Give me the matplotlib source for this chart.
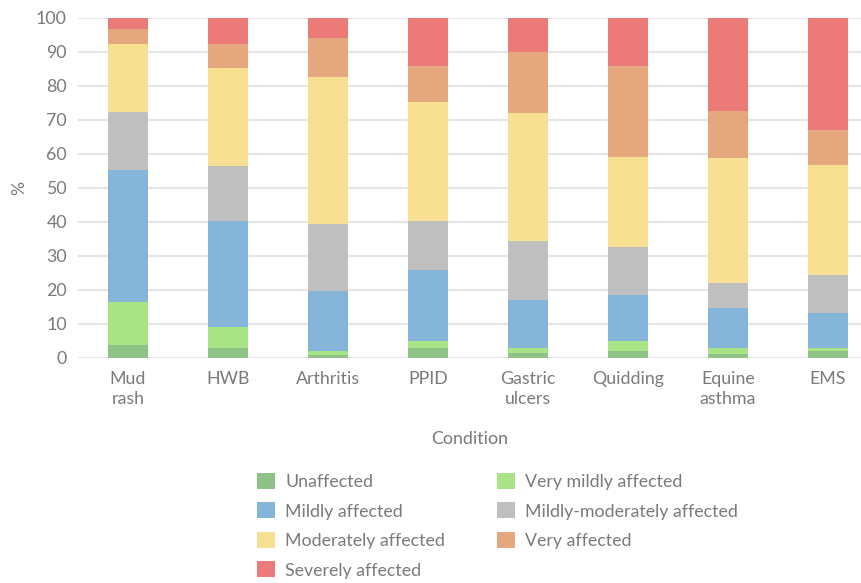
import matplotlib.pyplot as plt
import numpy as np
from matplotlib.patches import Patch

plt.rcParams['font.family'] = ['Lato', 'DejaVu Sans']

conditions = ["Mud\nrash", "HWB", "Arthritis", "PPID", "Gastric\nulcers",
              "Quidding", "Equine\nasthma", "EMS"]

# % of horses in each severity band, per condition
unaffected     = [3.6, 2.8, 0.7, 2.8, 1.3, 1.9, 1.0, 1.9]
very_mildly    = [12.7, 6.2, 1.2, 2.0, 1.5, 2.9, 1.8, 0.9]
mildly         = [38.9, 31.2, 17.6, 20.9, 14.1, 13.6, 11.7, 10.3]
mildly_mod     = [17.1, 16.2, 19.9, 14.5, 17.4, 14.1, 7.4, 11.2]
moderately     = [20.0, 28.9, 43.2, 35.0, 37.7, 26.5, 36.8, 32.4]
very           = [4.5, 7.0, 11.5, 10.7, 18.0, 26.9, 13.9, 10.3]
severely       = [3.2, 7.7, 5.9, 14.1, 10.0, 14.1, 27.4, 33.0]

series = [
    ("Unaffected", unaffected, "#8fc287"),
    ("Very mildly affected", very_mildly, "#a8e385"),
    ("Mildly affected", mildly, "#86b5da"),
    ("Mildly-moderately affected", mildly_mod, "#bebfbe"),
    ("Moderately affected", moderately, "#f7e091"),
    ("Very affected", very, "#e5a77e"),
    ("Severely affected", severely, "#ec7a78"),
]

txt = "#7a7a7a"

fig = plt.figure(figsize=(8.62, 5.83), dpi=100)
ax = fig.add_axes([78/862, 1 - 357.5/583, 1 - 78/862, (357.5 - 18)/583])

x = np.arange(len(conditions))
bottom = np.zeros(len(conditions))
for name, vals, col in series:
    vals = np.array(vals)
    ax.bar(x, vals, 0.4, bottom=bottom, color=col, zorder=3, linewidth=0)
    bottom += vals

ax.set_xlim(-0.5, 7.34)
ax.set_ylim(0, 100)
ax.set_yticks(np.arange(0, 101, 10))
ax.yaxis.grid(True, color="#e5e5e5", linewidth=1.5, zorder=0)
ax.set_axisbelow(True)
for s in ax.spines.values():
    s.set_visible(False)
ax.tick_params(length=0, labelsize=12.8, colors=txt)
ax.tick_params(axis='y', pad=8)
ax.tick_params(axis='x', pad=10)
ax.set_xticks(x)
ax.set_xticklabels(conditions, linespacing=1.3)
ax.set_ylabel("%", color=txt, fontsize=12.8, labelpad=6)
ax.set_xlabel("Condition", color=txt, fontsize=12.8, labelpad=17)

# legend laid out in two columns, filled column by column
order = [0, 2, 4, 6, 1, 3, 5]
handles = [Patch(facecolor=series[i][2], edgecolor='none') for i in order]
labels = [series[i][0] for i in order]
fig.legend(handles, labels, ncol=2, loc="upper left",
           bbox_to_anchor=(241/862, 1 - 457/583), frameon=False,
           fontsize=12.8, labelcolor=txt, handlelength=1.0, handleheight=1.0,
           handletextpad=0.6, columnspacing=2.9, labelspacing=0.7)

fig.savefig("out.png", dpi=100)
